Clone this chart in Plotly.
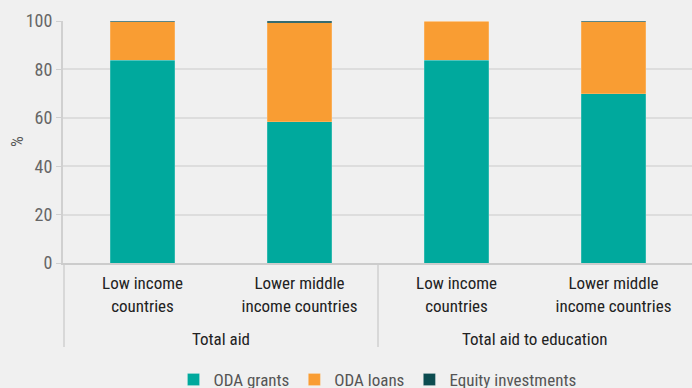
import plotly.graph_objects as go

groups = ["Total aid", "Total aid", "Total aid to education", "Total aid to education"]
categories = ["Low income<br>countries", "Lower middle<br>income countries",
              "Low income<br>countries", "Lower middle<br>income countries"]
oda_grants = [83.7, 58.4, 83.8, 69.9]
oda_loans = [15.9, 40.8, 16.2, 29.7]
equity = [0.4, 0.8, 0.0, 0.4]

colors = {"ODA grants": "#00A99D", "ODA loans": "#F99D33", "Equity investments": "#0C4C50"}
font_family = "Roboto Condensed, DejaVu Sans Condensed, sans-serif"

x_ids = [f"{g}|{c}" for g, c in zip(groups, categories)]

fig = go.Figure()
for name, vals in [("ODA grants", oda_grants), ("ODA loans", oda_loans), ("Equity investments", equity)]:
    fig.add_trace(go.Bar(
        x=x_ids, y=vals, name=name,
        marker=dict(color=colors[name], line=dict(color="rgba(255,255,255,0.35)", width=0.5)),
    ))

# group labels and dividers beneath the category labels
unique_groups = list(dict.fromkeys(groups))
for g in unique_groups:
    idx = [i for i, gg in enumerate(groups) if gg == g]
    fig.add_annotation(x=sum(idx) / len(idx), xref="x", y=-0.314, yref="paper",
                       text=g, showarrow=False, yanchor="middle",
                       font=dict(size=17, color="#222222"))
    fig.add_shape(type="line", xref="x", yref="paper", x0=idx[0] - 0.5, x1=idx[0] - 0.5,
                  y0=0, y1=-0.347, line=dict(color="#D8D8D8", width=2), layer="below")

fig.add_annotation(x=-0.073, xref="paper", xanchor="center", y=0.5, yref="paper",
                   yanchor="middle", text="%", textangle=-90,
                   showarrow=False, font=dict(size=17, color="#555555"))

fig.update_layout(
    barmode="stack",
    width=692, height=388,
    margin=dict(l=63, r=0, t=21, b=125, autoexpand=False),
    paper_bgcolor="#F0F0F0", plot_bgcolor="#F0F0F0",
    font=dict(family=font_family, size=17, color="#222222"),
    bargap=0.59,
    showlegend=True,
    legend=dict(orientation="h", x=0.5, xanchor="center", y=-0.409, yanchor="top",
                font=dict(size=17, color="#555555"), traceorder="normal"),
)
fig.update_yaxes(
    range=[0, 100], dtick=20, showgrid=True, gridcolor="#DDDDDD", gridwidth=2,
    zeroline=False, showline=True, linecolor="#D0D0D0", linewidth=2,
    ticks="outside", ticklen=5, tickcolor="#D0D0D0",
    tickfont=dict(size=18, color="#666666"), automargin=False,
)
fig.update_xaxes(
    type="category", tickvals=x_ids, ticktext=categories,
    showline=True, linecolor="#CCCCCC", linewidth=2,
    tickfont=dict(size=17, color="#222222"), automargin=False,
    ticks="", ticklabelstandoff=4,
)

fig.write_html("out.html", config={"displayModeBar": False},
               post_script="document.body.style.margin='0';")
